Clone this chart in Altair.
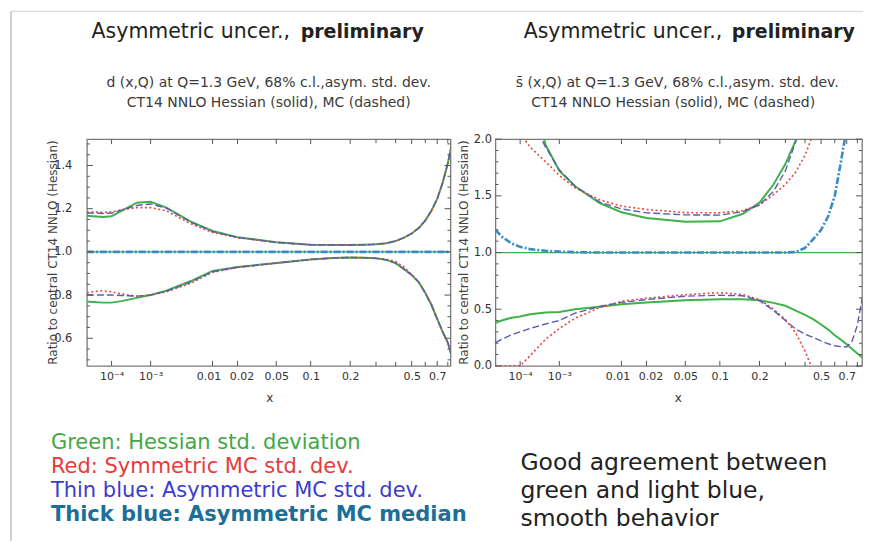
import altair as alt
import pandas as pd

# ---------------- data ----------------
X_GRID = [1e-5, 2e-5, 5e-5, 1e-4, 2e-4, 5e-4, 1e-3, 2e-3, 5e-3, 0.01, 0.02, 0.05,
          0.1, 0.15, 0.2, 0.25, 0.3, 0.35, 0.4, 0.45, 0.5, 0.55, 0.6, 0.65, 0.7,
          0.75, 0.8, 0.85]

# left panel: d(x,Q)
D_CENTRAL = [1.0, 1.0, 1.0, 1.0, 1.0, 1.0, 1.0, 1.0, 1.0, 1.0, 1.0, 1.0, 1.0, 1.0,
             1.0, 1.0, 1.0, 1.0, 1.0, 1.0, 1.0, 1.0, 1.0, 1.0, 1.0, 1.0, 1.0, 1.0]
D_HESS_UP = [1.167, 1.165, 1.162, 1.165, 1.19, 1.228, 1.232, 1.205, 1.14, 1.097, 1.068, 1.045,
             1.033, 1.032, 1.032, 1.033, 1.035, 1.04, 1.05, 1.066, 1.085, 1.11, 1.145, 1.19,
             1.245, 1.32, 1.41, 1.52]
D_HESS_LO = [0.77, 0.768, 0.765, 0.765, 0.772, 0.787, 0.80, 0.82, 0.865, 0.912, 0.93, 0.948,
             0.965, 0.972, 0.974, 0.973, 0.97, 0.963, 0.948, 0.92, 0.893, 0.86, 0.81, 0.755,
             0.69, 0.63, 0.58, 0.50]
D_SYM_UP = [1.185, 1.185, 1.183, 1.185, 1.195, 1.205, 1.205, 1.19, 1.13, 1.09, 1.066, 1.044,
            1.033, 1.032, 1.032, 1.033, 1.035, 1.04, 1.05, 1.066, 1.085, 1.11, 1.145, 1.19,
            1.245, 1.32, 1.41, 1.52]
D_SYM_LO = [0.81, 0.815, 0.82, 0.815, 0.805, 0.795, 0.80, 0.815, 0.855, 0.905, 0.928, 0.947,
            0.965, 0.972, 0.974, 0.973, 0.97, 0.966, 0.955, 0.93, 0.895, 0.86, 0.81, 0.755,
            0.69, 0.63, 0.58, 0.50]
D_ASYM_UP = [1.18, 1.18, 1.178, 1.18, 1.193, 1.215, 1.222, 1.203, 1.138, 1.095, 1.067, 1.044,
             1.033, 1.032, 1.032, 1.033, 1.035, 1.04, 1.05, 1.066, 1.085, 1.11, 1.145, 1.19,
             1.245, 1.32, 1.41, 1.52]
D_ASYM_LO = [0.80, 0.80, 0.80, 0.80, 0.798, 0.795, 0.80, 0.818, 0.86, 0.908, 0.929, 0.948,
             0.965, 0.972, 0.974, 0.973, 0.97, 0.963, 0.948, 0.92, 0.893, 0.86, 0.81, 0.755,
             0.69, 0.63, 0.58, 0.50]
D_MEDIAN = [1.0, 1.0, 1.0, 1.0, 1.0, 1.0, 1.0, 1.0, 1.0, 1.0, 1.0, 1.0, 1.0, 1.0,
            1.0, 1.0, 1.0, 1.0, 1.0, 1.0, 1.0, 1.0, 1.0, 1.0, 1.0, 1.0, 1.0, 1.0]

# right panel: sbar(x,Q)
S_CENTRAL = [1.0, 1.0, 1.0, 1.0, 1.0, 1.0, 1.0, 1.0, 1.0, 1.0, 1.0, 1.0, 1.0, 1.0,
             1.0, 1.0, 1.0, 1.0, 1.0, 1.0, 1.0, 1.0, 1.0, 1.0, 1.0, 1.0, 1.0, 1.0]
S_HESS_UP = [4.5, 3.9, 3.3, 2.9, 2.45, 1.95, 1.72, 1.585, 1.435, 1.355, 1.305, 1.272,
             1.275, 1.34, 1.44, 1.60, 1.78, 1.99, 2.3, 2.6, 3.0, 3.4, 3.9, 4.5, 5.0,
             5.5, 6.0, 6.5]
S_HESS_LO = [0.38, 0.40, 0.425, 0.435, 0.455, 0.47, 0.475, 0.50, 0.522, 0.543, 0.56, 0.58,
             0.587, 0.587, 0.578, 0.556, 0.53, 0.487, 0.45, 0.41, 0.365, 0.32, 0.27, 0.23,
             0.19, 0.15, 0.11, 0.075]
S_SYM_UP = [2.6, 2.4, 2.2, 2.05, 1.93, 1.80, 1.68, 1.57, 1.465, 1.41, 1.38, 1.352,
            1.35, 1.37, 1.42, 1.51, 1.60, 1.71, 1.86, 2.05, 2.3, 2.6, 3.0, 3.4, 3.8,
            4.2, 4.6, 5.0]
S_SYM_LO = [0.0, 0.0, 0.0, 0.0, 0.09, 0.235, 0.33, 0.42, 0.515, 0.57, 0.597, 0.628,
            0.646, 0.63, 0.585, 0.50, 0.41, 0.29, 0.13, -0.05, -0.25, -0.45, -0.65, -0.85,
            -1.05, -1.25, -1.45, -1.65]
S_ASYM_UP = [3.5, 3.1, 2.7, 2.45, 2.2, 1.93, 1.73, 1.585, 1.445, 1.385, 1.35, 1.332,
             1.33, 1.36, 1.42, 1.54, 1.72, 1.98, 2.25, 2.6, 3.0, 3.4, 3.8, 4.2, 4.6,
             5.0, 5.4, 5.8]
S_ASYM_LO = [0.206, 0.235, 0.275, 0.30, 0.33, 0.37, 0.40, 0.465, 0.525, 0.56, 0.585, 0.615,
             0.623, 0.619, 0.575, 0.49, 0.40, 0.325, 0.28, 0.25, 0.22, 0.195, 0.178, 0.17,
             0.167, 0.22, 0.36, 0.6]
S_MEDIAN = [1.20, 1.14, 1.08, 1.05, 1.03, 1.015, 1.008, 1.003, 1.0, 1.0, 1.0, 1.0,
            1.0, 1.0, 1.0, 1.0, 1.0, 1.005, 1.04, 1.12, 1.2, 1.32, 1.5, 1.8, 2.1,
            2.5, 2.9, 3.3]

# ticks
X_TICKS_MAJOR = [1e-4, 1e-3, 0.01, 0.02, 0.05, 0.1, 0.2, 0.5, 0.7]
X_TICK_LABELS = ["10⁻⁴", "10⁻³", "0.01", "0.02", "0.05", "0.1", "0.2", "0.5", "0.7"]
X_TICKS_MINOR = [0.3, 0.4, 0.6, 0.8]
D_Y_MAJOR = [0.6, 0.8, 1.0, 1.2, 1.4]
D_Y_MINOR = [0.5, 0.55, 0.65, 0.7, 0.75, 0.85, 0.9, 0.95, 1.05, 1.1, 1.15, 1.25, 1.3, 1.35, 1.45, 1.5]
S_Y_MAJOR = [0.0, 0.5, 1.0, 1.5, 2.0]
S_Y_MINOR = [0.1, 0.2, 0.3, 0.4, 0.6, 0.7, 0.8, 0.9, 1.1, 1.2, 1.3, 1.4, 1.6, 1.7, 1.8, 1.9]

# texts
TITLE_REG = "Asymmetric uncer.,"
TITLE_BOLD = "preliminary"
D_SUB1 = "d (x,Q) at Q=1.3 GeV, 68% c.l.,asym. std. dev."
S_SUB1 = "s\u0304 (x,Q) at Q=1.3 GeV, 68% c.l.,asym. std. dev."
SUB2 = "CT14 NNLO Hessian (solid), MC (dashed)"
Y_TITLE = "Ratio to central CT14 NNLO (Hessian)"
LEGEND_LINES = ["Green: Hessian std. deviation", "Red: Symmetric MC std. dev.",
                "Thin blue: Asymmetric MC std. dev.", "Thick blue: Asymmetric MC median"]
LEGEND_COLORS = ["#43a843", "#e53b3b", "#3b3bcf", "#1b6f99"]
NOTE_LINES = ["Good agreement between", "green and light blue,", "smooth behavior"]

GREEN, RED, SLATE, STEEL = "#3fb24a", "#e8473f", "#5b5bb3", "#3a8cc6"
STYLES = [("central", GREEN, None, 1.2), ("hess", GREEN, None, 2.0),
          ("sym", RED, [2, 2.5], 1.6), ("asym", SLATE, [7, 3], 1.4),
          ("median", STEEL, [7, 2, 2, 2], 2.6)]

H = 227
FONT = "DejaVu Sans"
ONE = alt.Data(values=[{}])


def long_df(curves):
    rows = []
    for name, kind, vals in curves:
        for x, v in zip(X_GRID, vals):
            rows.append({"x": x, "v": v, "curve": name, "kind": kind})
    return pd.DataFrame(rows)


def text(txt, x, y, size, color="#222222", weight="normal", align="left",
         baseline="alphabetic", angle=0, font=FONT):
    return alt.Chart(ONE).mark_text(text=txt, fontSize=size, color=color, fontWeight=weight,
                                    align=align, baseline=baseline, angle=angle,
                                    font=font).encode(x=alt.value(x), y=alt.value(y))


label_expr = "[" + ",".join("'%s'" % s for s in X_TICK_LABELS) + "][indexof([" + \
    ",".join(repr(v) for v in X_TICKS_MAJOR) + "], datum.value)]"
label_offset = {"condition": [{"test": "datum.value == 0.01", "value": -4},
                              {"test": "datum.value == 0.02", "value": 4}],
                "value": 0}


def panel(curves, xmax, ydom, ymaj, ymin, W, ylabpad, extra):
    xs = alt.Scale(type="pow", exponent=0.2, domain=[1e-5, xmax], nice=False, zero=False)
    ys = alt.Scale(domain=ydom, nice=False, zero=False)
    xaxis = alt.Axis(
        values=X_TICKS_MAJOR, labelExpr=label_expr, ticks=False, domain=False,
        grid=False, labelPadding=5, labelFont=FONT, labelFontSize=11,
        labelOffset=label_offset,
        labelColor="#333333", title=None, labelFlush=False, labelOverlap=False)
    yaxis = alt.Axis(
        values=ymaj, format=".1f", ticks=False, domain=False, grid=False,
        labelPadding=ylabpad, labelFont=FONT, labelFontSize=11.5,
        labelColor="#333333", title=None, labelOverlap=False)
    df = long_df(curves)
    layers = []
    for kind, col, dash, w in STYLES:
        sub = df[df.kind == kind]
        mk = dict(color=col, strokeWidth=w, clip=True)
        if dash:
            mk["strokeDash"] = dash
        layers.append(alt.Chart(sub).mark_line(**mk).encode(
            x=alt.X("x:Q", scale=xs, axis=xaxis),
            y=alt.Y("v:Q", scale=ys, axis=yaxis),
            detail="curve:N"))

    tick_col = "#555555"
    for vals, ln in ((ymaj, 6), (ymin, 3)):
        tdf = pd.DataFrame({"t": vals})
        for x0, x1 in ((0, ln), (W, W - ln)):
            layers.append(alt.Chart(tdf).mark_rule(color=tick_col, strokeWidth=1).encode(
                y=alt.Y("t:Q", scale=ys, axis=yaxis), x=alt.value(x0), x2=alt.value(x1)))
    for vals, ln in ((X_TICKS_MAJOR, 5), (X_TICKS_MINOR, 4)):
        tdf = pd.DataFrame({"t": vals})
        for y0, y1 in ((H, H - ln), (0, ln)):
            layers.append(alt.Chart(tdf).mark_rule(color=tick_col, strokeWidth=1).encode(
                x=alt.X("t:Q", scale=xs, axis=xaxis), y=alt.value(y0), y2=alt.value(y1)))
    layers += extra
    return alt.layer(*layers).properties(width=W, height=H)


LW, RW = 364, 367

left_extra = [
    # slide frame
    alt.Chart(ONE).mark_rule(color="#d4d4d4", strokeWidth=1).encode(
        x=alt.value(-76), x2=alt.value(777), y=alt.value(-128)),
    alt.Chart(ONE).mark_rule(color="#b0b0b0", strokeWidth=1.2).encode(
        x=alt.value(-76), y=alt.value(-128), y2=alt.value(402)),
    text(TITLE_REG, 4.7, -101, 20.5),
    text(TITLE_BOLD, 214, -101, 19, weight="bold"),
    text(D_SUB1, 182, -56.3, 14, color="#3a3a3a", align="center", baseline="middle"),
    text(SUB2, 182, -36.3, 14, color="#3a3a3a", align="center", baseline="middle"),
    text(Y_TITLE, -34, H / 2, 12, color="#444444", align="center", baseline="middle", angle=270),
    text("x", 183, 259, 12, color="#333333", align="center", baseline="middle"),
]
for i, (line, col) in enumerate(zip(LEGEND_LINES, LEGEND_COLORS)):
    left_extra.append(text(line, -36, 310 + 24 * i, 21, color=col,
                           weight="bold" if i == 3 else "normal"))

right_extra = [
    text(TITLE_REG, 28.3, -101, 20.5),
    text(TITLE_BOLD, 236.7, -101, 19, weight="bold"),
    text(S_SUB1, 182, -56.3, 14, color="#3a3a3a", align="center", baseline="middle"),
    text(SUB2, 178, -36.3, 14, color="#3a3a3a", align="center", baseline="middle"),
    text(Y_TITLE, -31, H / 2, 12, color="#444444", align="center", baseline="middle", angle=270),
    text("x", 183, 259, 12, color="#333333", align="center", baseline="middle"),
]
for i, line in enumerate(NOTE_LINES):
    right_extra.append(text(line, 25, 331 + 28 * i, 23.5, color="#222222"))

left = panel(
    [("c", "central", D_CENTRAL), ("hu", "hess", D_HESS_UP), ("hl", "hess", D_HESS_LO),
     ("su", "sym", D_SYM_UP), ("sl", "sym", D_SYM_LO), ("au", "asym", D_ASYM_UP),
     ("al", "asym", D_ASYM_LO), ("m", "median", D_MEDIAN)],
    0.827, [0.472, 1.522], D_Y_MAJOR, D_Y_MINOR, LW, 15, left_extra)

right = panel(
    [("c", "central", S_CENTRAL), ("hu", "hess", S_HESS_UP), ("hl", "hess", S_HESS_LO),
     ("su", "sym", S_SYM_UP), ("sl", "sym", S_SYM_LO), ("au", "asym", S_ASYM_UP),
     ("al", "asym", S_ASYM_LO), ("m", "median", S_MEDIAN)],
    0.847, [0.0, 2.0], S_Y_MAJOR, S_Y_MINOR, RW, 4, right_extra)

chart = alt.hconcat(left, right, spacing=45, bounds="flush").properties(
    padding={"left": 1, "top": 1, "right": 0, "bottom": 0},
    background="white",
).configure_view(stroke="#7a7a7a", strokeWidth=1.3)

chart.save("out.html", embed_options={"renderer": "svg", "actions": False})
